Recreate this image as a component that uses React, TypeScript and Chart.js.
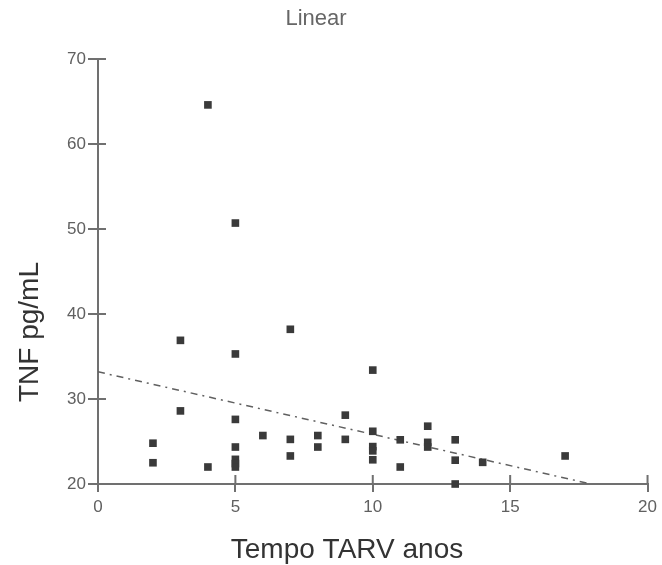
import React, { useEffect, useRef } from "react";
import { Chart, registerables } from "chart.js";

Chart.register(...registerables);

const chartTitle = "Linear";
const xAxisTitle = "Tempo TARV anos";
const yAxisTitle = "TNF pg/mL";

const tarvYears = [2, 2, 3, 3, 4, 4, 5, 5, 5, 5, 5, 5, 5, 6, 7, 7, 7, 8, 8, 9, 9, 10, 10, 10, 10, 10, 11, 11, 12, 12, 12, 13, 13, 13, 14, 17];
const tnfValues = [24.8, 22.5, 36.9, 28.6, 64.6, 22.0, 50.7, 35.3, 27.6, 24.35, 22.9, 22.4, 22.0, 25.7, 38.2, 25.25, 23.3, 25.7, 24.35, 28.1, 25.25, 33.4, 26.2, 24.4, 23.9, 22.85, 25.2, 22.0, 26.8, 24.9, 24.35, 25.2, 22.8, 20.0, 22.55, 23.3];

const fitX = [0, 17.94];
const fitY = [33.2, 20];

const xTicks = [0, 5, 10, 15, 20];
const yTicks = [20, 30, 40, 50, 60, 70];

const FONT = "'Liberation Sans', Arial, sans-serif";

export default function App() {
  const ref = useRef<HTMLCanvasElement | null>(null);

  useEffect(() => {
    if (!ref.current) return;

    const innerTicks = {
      id: "innerTicks",
      afterDraw(chart: any) {
        const ctx = chart.ctx;
        const xs = chart.scales.x;
        const ys = chart.scales.y;
        ctx.save();
        ctx.strokeStyle = "#707070";
        ctx.lineWidth = 2;
        ctx.beginPath();
        xTicks.forEach((v) => {
          const px = xs.getPixelForValue(v);
          ctx.moveTo(px, ys.bottom);
          ctx.lineTo(px, ys.bottom - 9);
        });
        yTicks.forEach((v) => {
          const py = ys.getPixelForValue(v);
          ctx.moveTo(xs.left, py);
          ctx.lineTo(xs.left + 8, py);
        });
        ctx.stroke();

        ctx.fillStyle = "#666";
        ctx.font = `22px ${FONT}`;
        ctx.textAlign = "center";
        ctx.textBaseline = "middle";
        ctx.fillText(chartTitle, 316, 19);

        ctx.fillStyle = "#333";
        ctx.font = `28px ${FONT}`;
        ctx.fillText(xAxisTitle, 347, 550);

        ctx.translate(30, 332);
        ctx.rotate(-Math.PI / 2);
        ctx.fillText(yAxisTitle, 0, 0);
        ctx.restore();
      },
    };

    const chart = new Chart(ref.current, {
      type: "scatter",
      data: {
        datasets: [
          {
            type: "scatter",
            data: tarvYears.map((x, i) => ({ x, y: tnfValues[i] })),
            pointStyle: "rect",
            pointRadius: 5.4,
            pointBorderWidth: 0,
            backgroundColor: "#3a3a3a",
            borderColor: "#3a3a3a",
            clip: false,
            order: 0,
          },
          {
            type: "line",
            data: fitX.map((x, i) => ({ x, y: fitY[i] })),
            borderColor: "#606060",
            borderWidth: 1.5,
            borderDash: [7, 5, 2, 5],
            pointRadius: 0,
            fill: false,
            order: 1,
          },
        ],
      },
      options: {
        animation: false,
        responsive: false,
        devicePixelRatio: 1,
        layout: { padding: { top: 59, right: 10, left: 0, bottom: 0 } },
        plugins: { legend: { display: false }, tooltip: { enabled: false }, title: { display: false } },
        scales: {
          x: {
            type: "linear",
            min: 0,
            max: 20,
            afterBuildTicks: (s: any) => {
              s.ticks = xTicks.map((v) => ({ value: v }));
            },
            afterFit: (s: any) => {
              s.height = 81;
            },
            grid: { drawOnChartArea: false, drawTicks: true, tickLength: 8, color: "#707070", lineWidth: 2 },
            border: { display: true, color: "#707070", width: 2 },
            ticks: { color: "#606060", font: { family: FONT, size: 17 }, padding: 5, maxRotation: 0 },
          },
          y: {
            type: "linear",
            min: 20,
            max: 70,
            afterBuildTicks: (s: any) => {
              s.ticks = yTicks.map((v) => ({ value: v }));
            },
            afterFit: (s: any) => {
              s.width = 98;
            },
            grid: { drawOnChartArea: false, drawTicks: true, tickLength: 10, color: "#707070", lineWidth: 2 },
            border: { display: true, color: "#707070", width: 2 },
            ticks: { color: "#606060", font: { family: FONT, size: 17 }, padding: 2 },
          },
        },
      },
      plugins: [innerTicks],
    });

    return () => chart.destroy();
  }, []);

  return (
    <div style={{ position: "absolute", left: 0, top: 0, width: 662, height: 565, background: "#fff" }}>
      <canvas ref={ref} width={662} height={565} />
    </div>
  );
}
